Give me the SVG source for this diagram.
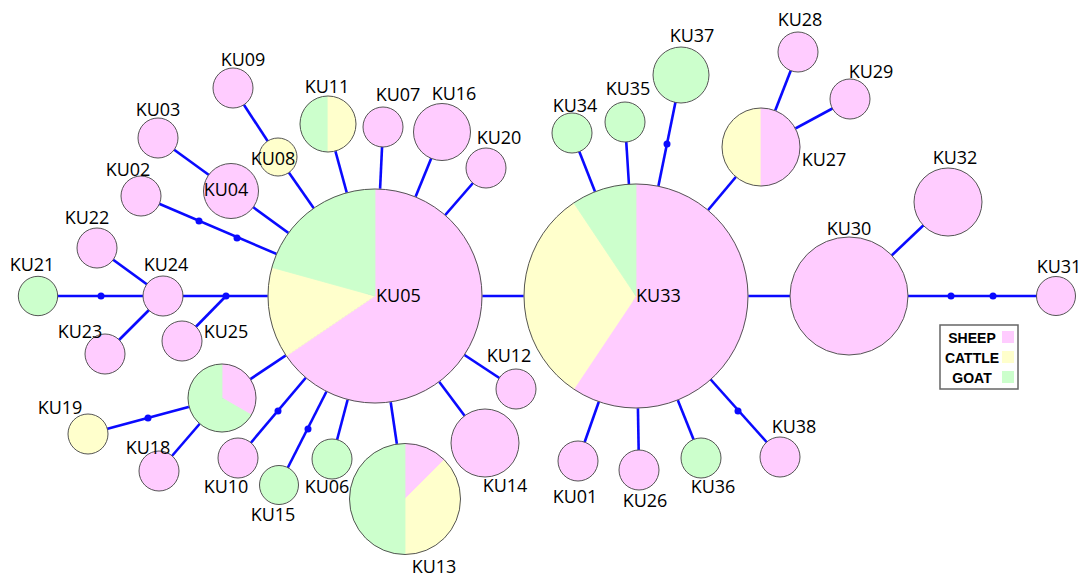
<svg xmlns="http://www.w3.org/2000/svg" width="1084" height="578" viewBox="0 0 1084 578">
  <style>
    .edge { stroke: #0a0aff; stroke-width: 2.6; fill: none; }
    .dot { fill: #0a0aff; }
    .rim { fill: none; stroke: #555555; stroke-width: 1; }
    .sheep { fill: #ffccff; }
    .cattle { fill: #ffffcc; }
    .goat { fill: #ccffcc; }
    path.sheep { stroke: #ffccff; stroke-width: 0.8; }
    path.cattle { stroke: #ffffcc; stroke-width: 0.8; }
    path.goat { stroke: #ccffcc; stroke-width: 0.8; }
    .lbl { font-family: "Open Sans", "Liberation Sans", sans-serif; font-size: 18px; fill: #000000; text-anchor: middle; }
    .lbl.start { text-anchor: start; }
    .leg { font-family: "Liberation Sans", Arial, sans-serif; font-size: 14px; font-weight: bold; fill: #000000; text-anchor: middle; }
  </style>

  <rect x="0" y="0" width="1084" height="578" fill="#ffffff"/>

  <!-- connectors -->
  <g id="connectors">
    <line class="edge" x1="375" y1="296" x2="636" y2="296"/>
    <line class="edge" x1="636" y1="296" x2="849" y2="296"/>
    <line class="edge" x1="849" y1="296" x2="1056" y2="296"/>
    <line class="edge" x1="849" y1="296" x2="948" y2="202"/>
    <line class="edge" x1="636" y1="296" x2="761" y2="147"/>
    <line class="edge" x1="761" y1="147" x2="798" y2="52"/>
    <line class="edge" x1="761" y1="147" x2="850" y2="99"/>
    <line class="edge" x1="636" y1="296" x2="681" y2="75"/>
    <line class="edge" x1="636" y1="296" x2="625" y2="122"/>
    <line class="edge" x1="636" y1="296" x2="572" y2="133"/>
    <line class="edge" x1="636" y1="296" x2="578" y2="461"/>
    <line class="edge" x1="636" y1="296" x2="639" y2="470"/>
    <line class="edge" x1="636" y1="296" x2="701" y2="458"/>
    <line class="edge" x1="636" y1="296" x2="780" y2="457"/>
    <line class="edge" x1="375" y1="296" x2="516" y2="389"/>
    <line class="edge" x1="375" y1="296" x2="485" y2="443"/>
    <line class="edge" x1="375" y1="296" x2="405" y2="499"/>
    <line class="edge" x1="375" y1="296" x2="332" y2="459"/>
    <line class="edge" x1="375" y1="296" x2="279" y2="485"/>
    <line class="edge" x1="375" y1="296" x2="238" y2="458"/>
    <line class="edge" x1="375" y1="296" x2="222" y2="398"/>
    <line class="edge" x1="222" y1="398" x2="88" y2="434"/>
    <line class="edge" x1="222" y1="398" x2="159" y2="471"/>
    <line class="edge" x1="375" y1="296" x2="163" y2="296"/>
    <line class="edge" x1="226" y1="296" x2="182" y2="341"/>
    <line class="edge" x1="163" y1="296" x2="38" y2="296"/>
    <line class="edge" x1="163" y1="296" x2="97" y2="248"/>
    <line class="edge" x1="163" y1="296" x2="105" y2="354"/>
    <line class="edge" x1="375" y1="296" x2="141" y2="196"/>
    <line class="edge" x1="375" y1="296" x2="231" y2="191"/>
    <line class="edge" x1="231" y1="191" x2="158" y2="138"/>
    <line class="edge" x1="375" y1="296" x2="278" y2="157"/>
    <line class="edge" x1="278" y1="157" x2="233" y2="88"/>
    <line class="edge" x1="375" y1="296" x2="328" y2="124"/>
    <line class="edge" x1="375" y1="296" x2="383" y2="127"/>
    <line class="edge" x1="375" y1="296" x2="442" y2="132"/>
    <line class="edge" x1="375" y1="296" x2="486" y2="168"/>
    <!-- median vectors -->
    <circle class="dot" cx="951" cy="296" r="3.5"/>
    <circle class="dot" cx="993" cy="296" r="3.5"/>
    <circle class="dot" cx="667" cy="144" r="3.5"/>
    <circle class="dot" cx="738" cy="411" r="3.5"/>
    <circle class="dot" cx="308" cy="429" r="3.5"/>
    <circle class="dot" cx="278" cy="411" r="3.5"/>
    <circle class="dot" cx="148" cy="418" r="3.5"/>
    <circle class="dot" cx="226" cy="296" r="3.5"/>
    <circle class="dot" cx="101" cy="296" r="3.5"/>
    <circle class="dot" cx="199" cy="221" r="3.5"/>
    <circle class="dot" cx="237" cy="238" r="3.5"/>
  </g>

  <!-- haplotype nodes -->
  <g id="KU05" class="node">
    <path class="sheep" d="M375,296 L375,189 A107,107 0 1 1 286.4,356.0 Z"/>
    <path class="cattle" d="M375,296 L286.4,356.0 A107,107 0 0 1 271.9,267.4 Z"/>
    <path class="goat" d="M375,296 L271.9,267.4 A107,107 0 0 1 375,189 Z"/>
    <circle class="rim" cx="375" cy="296" r="107"/>
    <text class="lbl start" x="376" y="302">KU05</text>
  </g>
  <g id="KU33" class="node">
    <path class="sheep" d="M636,296 L636,184 A112,112 0 1 1 573.8,389.1 Z"/>
    <path class="cattle" d="M636,296 L573.8,389.1 A112,112 0 0 1 573.8,202.9 Z"/>
    <path class="goat" d="M636,296 L573.8,202.9 A112,112 0 0 1 636,184 Z"/>
    <circle class="rim" cx="636" cy="296" r="112"/>
    <text class="lbl start" x="636" y="302">KU33</text>
  </g>
  <g id="KU30" class="node">
    <circle class="sheep" cx="849" cy="296" r="59"/>
    <circle class="rim" cx="849" cy="296" r="59"/>
    <text class="lbl" x="849" y="235">KU30</text>
  </g>
  <g id="KU31" class="node">
    <circle class="sheep" cx="1056" cy="296" r="19.5"/>
    <circle class="rim" cx="1056" cy="296" r="19.5"/>
    <text class="lbl" x="1059" y="273">KU31</text>
  </g>
  <g id="KU32" class="node">
    <circle class="sheep" cx="948" cy="202" r="34"/>
    <circle class="rim" cx="948" cy="202" r="34"/>
    <text class="lbl" x="955" y="164">KU32</text>
  </g>
  <g id="KU27" class="node">
    <path class="cattle" d="M761,108 A39,39 0 0 0 761,186 Z"/>
    <path class="sheep" d="M761,108 A39,39 0 0 1 761,186 Z"/>
    <circle class="rim" cx="761" cy="147" r="39"/>
    <text class="lbl" x="824" y="166">KU27</text>
  </g>
  <g id="KU28" class="node">
    <circle class="sheep" cx="798" cy="52" r="20"/>
    <circle class="rim" cx="798" cy="52" r="20"/>
    <text class="lbl" x="800" y="26">KU28</text>
  </g>
  <g id="KU29" class="node">
    <circle class="sheep" cx="850" cy="99" r="20"/>
    <circle class="rim" cx="850" cy="99" r="20"/>
    <text class="lbl" x="871" y="78">KU29</text>
  </g>
  <g id="KU37" class="node">
    <circle class="goat" cx="681" cy="75" r="28"/>
    <circle class="rim" cx="681" cy="75" r="28"/>
    <text class="lbl" x="692" y="42">KU37</text>
  </g>
  <g id="KU35" class="node">
    <circle class="goat" cx="625" cy="122" r="20"/>
    <circle class="rim" cx="625" cy="122" r="20"/>
    <text class="lbl" x="628" y="95">KU35</text>
  </g>
  <g id="KU34" class="node">
    <circle class="goat" cx="572" cy="133" r="20"/>
    <circle class="rim" cx="572" cy="133" r="20"/>
    <text class="lbl" x="575" y="112">KU34</text>
  </g>
  <g id="KU01" class="node">
    <circle class="sheep" cx="578" cy="461" r="20"/>
    <circle class="rim" cx="578" cy="461" r="20"/>
    <text class="lbl" x="575" y="503">KU01</text>
  </g>
  <g id="KU26" class="node">
    <circle class="sheep" cx="639" cy="470" r="20"/>
    <circle class="rim" cx="639" cy="470" r="20"/>
    <text class="lbl" x="645" y="507">KU26</text>
  </g>
  <g id="KU36" class="node">
    <circle class="goat" cx="701" cy="458" r="20"/>
    <circle class="rim" cx="701" cy="458" r="20"/>
    <text class="lbl" x="713" y="493">KU36</text>
  </g>
  <g id="KU38" class="node">
    <circle class="sheep" cx="780" cy="457" r="20"/>
    <circle class="rim" cx="780" cy="457" r="20"/>
    <text class="lbl" x="794" y="433">KU38</text>
  </g>
  <g id="KU12" class="node">
    <circle class="sheep" cx="516" cy="389" r="20"/>
    <circle class="rim" cx="516" cy="389" r="20"/>
    <text class="lbl" x="509" y="362">KU12</text>
  </g>
  <g id="KU14" class="node">
    <circle class="sheep" cx="485" cy="443" r="34"/>
    <circle class="rim" cx="485" cy="443" r="34"/>
    <text class="lbl" x="505" y="492">KU14</text>
  </g>
  <g id="KU13" class="node">
    <path class="sheep" d="M405,499 L405,443.5 A55.5,55.5 0 0 1 444.2,459.8 Z"/>
    <path class="cattle" d="M405,499 L444.2,459.8 A55.5,55.5 0 0 1 405,554.5 Z"/>
    <path class="goat" d="M405,499 L405,554.5 A55.5,55.5 0 0 1 405,443.5 Z"/>
    <circle class="rim" cx="405" cy="499" r="55.5"/>
    <text class="lbl" x="434" y="573">KU13</text>
  </g>
  <g id="KU06" class="node">
    <circle class="goat" cx="332" cy="459" r="20"/>
    <circle class="rim" cx="332" cy="459" r="20"/>
    <text class="lbl" x="327" y="493">KU06</text>
  </g>
  <g id="KU15" class="node">
    <circle class="goat" cx="279" cy="485" r="19.5"/>
    <circle class="rim" cx="279" cy="485" r="19.5"/>
    <text class="lbl" x="273" y="521">KU15</text>
  </g>
  <g id="KU10" class="node">
    <circle class="sheep" cx="238" cy="458" r="20"/>
    <circle class="rim" cx="238" cy="458" r="20"/>
    <text class="lbl" x="226" y="493">KU10</text>
  </g>
  <g id="KU17" class="node">
    <path class="sheep" d="M222,398 L222,364 A34,34 0 0 1 251.4,415 Z"/>
    <path class="goat" d="M222,398 L251.4,415 A34,34 0 1 1 222,364 Z"/>
    <circle class="rim" cx="222" cy="398" r="34"/>
  </g>
  <g id="KU19" class="node">
    <circle class="cattle" cx="88" cy="434" r="20"/>
    <circle class="rim" cx="88" cy="434" r="20"/>
    <text class="lbl" x="60" y="414">KU19</text>
  </g>
  <g id="KU18" class="node">
    <circle class="sheep" cx="159" cy="471" r="20"/>
    <circle class="rim" cx="159" cy="471" r="20"/>
    <text class="lbl" x="148" y="454">KU18</text>
  </g>
  <g id="KU24" class="node">
    <circle class="sheep" cx="163" cy="296" r="20"/>
    <circle class="rim" cx="163" cy="296" r="20"/>
    <text class="lbl" x="166" y="271">KU24</text>
  </g>
  <g id="KU25" class="node">
    <circle class="sheep" cx="182" cy="341" r="20"/>
    <circle class="rim" cx="182" cy="341" r="20"/>
    <text class="lbl" x="226" y="338">KU25</text>
  </g>
  <g id="KU21" class="node">
    <circle class="goat" cx="38" cy="296" r="19.7"/>
    <circle class="rim" cx="38" cy="296" r="19.7"/>
    <text class="lbl" x="32" y="271">KU21</text>
  </g>
  <g id="KU22" class="node">
    <circle class="sheep" cx="97" cy="248" r="20"/>
    <circle class="rim" cx="97" cy="248" r="20"/>
    <text class="lbl" x="87" y="224">KU22</text>
  </g>
  <g id="KU23" class="node">
    <circle class="sheep" cx="105" cy="354" r="20"/>
    <circle class="rim" cx="105" cy="354" r="20"/>
    <text class="lbl" x="80" y="338">KU23</text>
  </g>
  <g id="KU02" class="node">
    <circle class="sheep" cx="141" cy="196" r="20"/>
    <circle class="rim" cx="141" cy="196" r="20"/>
    <text class="lbl" x="128" y="176">KU02</text>
  </g>
  <g id="KU03" class="node">
    <circle class="sheep" cx="158" cy="138" r="20"/>
    <circle class="rim" cx="158" cy="138" r="20"/>
    <text class="lbl" x="158" y="116">KU03</text>
  </g>
  <g id="KU04" class="node">
    <circle class="sheep" cx="231" cy="191" r="27.5"/>
    <circle class="rim" cx="231" cy="191" r="27.5"/>
    <text class="lbl" x="226" y="196">KU04</text>
  </g>
  <g id="KU09" class="node">
    <circle class="sheep" cx="233" cy="88" r="20"/>
    <circle class="rim" cx="233" cy="88" r="20"/>
    <text class="lbl" x="243" y="66">KU09</text>
  </g>
  <g id="KU08" class="node">
    <circle class="cattle" cx="278" cy="157" r="19"/>
    <circle class="rim" cx="278" cy="157" r="19"/>
    <text class="lbl" x="273" y="165">KU08</text>
  </g>
  <g id="KU11" class="node">
    <path class="goat" d="M328,96 A28,28 0 0 0 328,152 Z"/>
    <path class="cattle" d="M328,96 A28,28 0 0 1 328,152 Z"/>
    <circle class="rim" cx="328" cy="124" r="28"/>
    <text class="lbl" x="327" y="93">KU11</text>
  </g>
  <g id="KU07" class="node">
    <circle class="sheep" cx="383" cy="127" r="20"/>
    <circle class="rim" cx="383" cy="127" r="20"/>
    <text class="lbl" x="398" y="101">KU07</text>
  </g>
  <g id="KU16" class="node">
    <circle class="sheep" cx="442" cy="132" r="28.5"/>
    <circle class="rim" cx="442" cy="132" r="28.5"/>
    <text class="lbl" x="454" y="100">KU16</text>
  </g>
  <g id="KU20" class="node">
    <circle class="sheep" cx="486" cy="168" r="20"/>
    <circle class="rim" cx="486" cy="168" r="20"/>
    <text class="lbl" x="499" y="144">KU20</text>
  </g>

  <!-- host legend -->
  <g id="legend">
    <rect x="940" y="325" width="78" height="64" fill="#ffffff" stroke="#666666" stroke-width="1.5"/>
    <text class="leg" x="972" y="343">SHEEP</text>
    <text class="leg" x="972" y="363">CATTLE</text>
    <text class="leg" x="972" y="383">GOAT</text>
    <rect class="sheep" x="1002" y="331" width="12" height="12"/>
    <rect class="cattle" x="1002" y="351" width="12" height="12"/>
    <rect class="goat" x="1002" y="371" width="12" height="12"/>
  </g>
</svg>
